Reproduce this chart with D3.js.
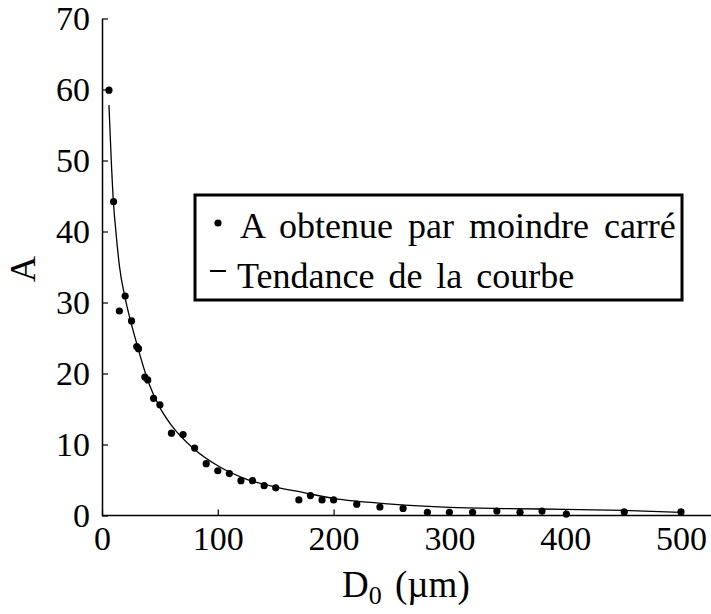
<!DOCTYPE html>
<html>
<head>
<meta charset="utf-8">
<script src="https://cdn.jsdelivr.net/npm/d3@7"></script>
<style>
  body { margin: 0; background: #fff; }
  svg text { font-family: "Liberation Serif", "Times New Roman", serif; fill: #000; }
</style>
</head>
<body>
<div id="chart"></div>
<script>
// measured points (D0 in µm, A)
const pointD0 = [6, 10, 15, 20, 25.5, 30, 31.5, 37, 39.5, 44.5, 50, 60, 70, 80, 90, 100, 110, 120, 130, 140, 150,
  170, 180, 190, 200, 220, 240, 260, 281, 300, 320, 341, 361, 380, 401, 451, 500];
const pointA = [59.9, 44.2, 28.8, 30.9, 27.4, 23.8, 23.5, 19.5, 19.1, 16.5, 15.6, 11.6, 11.4, 9.5, 7.3, 6.3, 5.9, 4.9, 4.9, 4.2, 3.9,
  2.2, 2.8, 2.2, 2.2, 1.6, 1.2, 1.0, 0.45, 0.45, 0.45, 0.63, 0.45, 0.63, 0.2, 0.5, 0.5];

// trend curve
const trendD0 = [6, 8, 10, 12, 15, 20, 25, 30, 40, 50, 60, 80, 100, 125, 150, 175, 200, 250, 300, 350, 400, 450, 500];
const trendA = [57.8, 50, 43.8, 40, 35.2, 30.6, 27.2, 24.2, 18.8, 15.2, 12.7, 9.3, 7.0, 5.1, 4.0, 3.2, 2.4, 1.6, 1.15, 0.98, 0.87, 0.73, 0.45];

const xTicks = [0, 100, 200, 300, 400, 500];
const yTicks = [0, 10, 20, 30, 40, 50, 60, 70];
const legendLabels = ["A obtenue par moindre carré", "Tendance de la courbe"];

const W = 711, H = 614;
const fontSize = 34;

const svg = d3.select("#chart").append("svg")
    .attr("width", W)
    .attr("height", H);

const x = d3.scaleLinear().domain([0, 500]).range([102, 681]);
const y = d3.scaleLinear().domain([0, 70]).range([515.5, 18.5]);

// x axis (line runs past 500 to the right edge)
const xAxis = svg.append("g")
    .attr("transform", `translate(0,${y(0)})`)
    .call(d3.axisBottom(x).tickValues(xTicks).tickSize(-6).tickSizeOuter(0).tickPadding(10));
xAxis.select(".domain").remove();
xAxis.selectAll("text").style("font-size", fontSize + "px");
svg.append("line")
    .attr("x1", x(0)).attr("x2", W)
    .attr("y1", y(0)).attr("y2", y(0))
    .attr("stroke", "#000").attr("stroke-width", 1.5);

// y axis
const yAxis = svg.append("g")
    .attr("transform", `translate(${x(0)},0)`)
    .call(d3.axisLeft(y).tickValues(yTicks).tickSize(-6).tickSizeOuter(0).tickPadding(12));
yAxis.select(".domain").attr("stroke-width", 1.5);
yAxis.selectAll("text").style("font-size", fontSize + "px");
svg.selectAll(".tick line").attr("stroke-width", 1.2);

// axis titles
svg.append("text")
    .attr("transform", `translate(35,${(y(0) + y(70)) / 2 + 2}) rotate(-90)`)
    .attr("text-anchor", "middle")
    .style("font-size", "36px")
    .text("A");

const xTitle = svg.append("text")
    .attr("x", 342)
    .attr("y", 597)
    .style("font-size", "37px")
    .style("word-spacing", "4px");
xTitle.append("tspan").text("D");
xTitle.append("tspan").attr("dy", 7).style("font-size", "26px").text("0");
xTitle.append("tspan").attr("dy", -7).text(" (µm)");

// trend curve
const trend = trendD0.map((d, i) => ({ d0: d, a: trendA[i] }));
svg.append("path")
    .datum(trend)
    .attr("fill", "none")
    .attr("stroke", "#000")
    .attr("stroke-width", 1.3)
    .attr("d", d3.line().x(d => x(d.d0)).y(d => y(d.a)).curve(d3.curveMonotoneX));

// points
const points = pointD0.map((d, i) => ({ d0: d, a: pointA[i] }));
svg.append("g").selectAll("circle")
    .data(points)
    .join("circle")
    .attr("cx", d => x(d.d0))
    .attr("cy", d => y(d.a))
    .attr("r", 3.6)
    .attr("fill", "#000");

// legend
const legend = svg.append("g");
legend.append("rect")
    .attr("x", 195).attr("y", 195)
    .attr("width", 487).attr("height", 105)
    .attr("fill", "#fff")
    .attr("stroke", "#000")
    .attr("stroke-width", 3);
legend.append("circle")
    .attr("cx", 218).attr("cy", 223).attr("r", 3.6).attr("fill", "#000");
legend.append("line")
    .attr("x1", 210).attr("x2", 226)
    .attr("y1", 271).attr("y2", 271)
    .attr("stroke", "#000").attr("stroke-width", 2);
legend.selectAll("text.lbl")
    .data(legendLabels)
    .join("text")
    .attr("class", "lbl")
    .attr("x", (d, i) => i === 0 ? 240 : 237)
    .attr("y", (d, i) => i === 0 ? 238 : 288)
    .style("font-size", "36px")
    .style("word-spacing", (d, i) => i === 0 ? "6px" : "5px")
    .text(d => d);
</script>
</body>
</html>
